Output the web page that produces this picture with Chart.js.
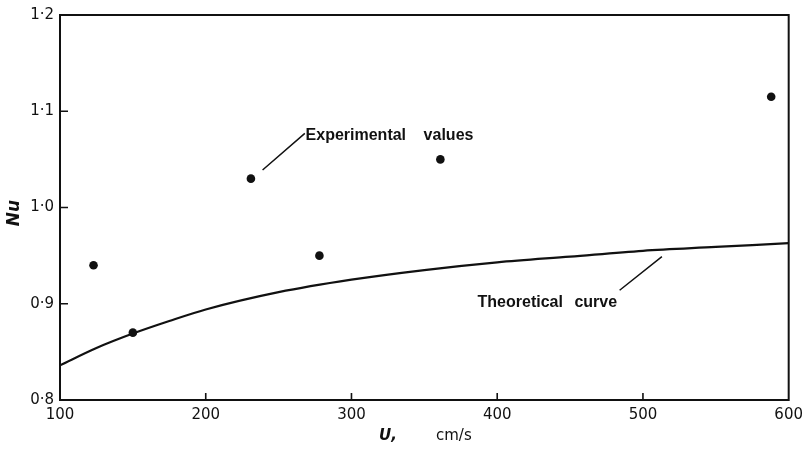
<!DOCTYPE html>
<html>
<head>
<meta charset="utf-8">
<script src="https://cdn.jsdelivr.net/npm/chart.js@4.4.1/dist/chart.umd.min.js"></script>
<style>
  html, body { margin:0; padding:0; background:#fff; }
  #wrap { width:809px; height:450px; }
</style>
</head>
<body>
<div id="wrap"><canvas id="c" width="809" height="450"></canvas></div>
<script>
// measured points (U in cm/s, Nu)
const expU  = [123, 150, 231, 278, 361, 588];
const expNu = [0.94, 0.87, 1.03, 0.95, 1.05, 1.115];

// theoretical curve
const theoU  = [100, 125, 150, 175, 200, 250, 300, 350, 400, 450, 500, 550, 600];
const theoNu = [0.836, 0.854, 0.869, 0.882, 0.894, 0.912, 0.925, 0.935, 0.943, 0.949, 0.955, 0.959, 0.963];

const xTicks = [100, 200, 300, 400, 500, 600];
const yTicks = [0.8, 0.9, 1.0, 1.1, 1.2];

const tickFont = { family: "DejaVu Sans", size: 15 };
const INK = "#111";

const $ = (id) => document.getElementById(id);
const fmtY = (v) => v.toFixed(1).replace(".", "\u00b7");

// inward ticks, frame, axis titles and the two callouts
const figurePlugin = {
  id: "figure",
  beforeDatasetsDraw(chart){
    const { ctx, chartArea: a, scales: { x, y } } = chart;
    ctx.save();
    ctx.strokeStyle = INK;
    ctx.lineWidth = 2;
    ctx.strokeRect(a.left, a.top, a.right - a.left, a.bottom - a.top);
    ctx.lineWidth = 1.6;
    ctx.beginPath();
    for(const t of xTicks.slice(1, -1)){
      const px = x.getPixelForValue(t);
      ctx.moveTo(px, a.bottom); ctx.lineTo(px, a.bottom - 7);
    }
    for(const t of yTicks.slice(1, -1)){
      const py = y.getPixelForValue(t);
      ctx.moveTo(a.left, py); ctx.lineTo(a.left + 8, py);
    }
    ctx.stroke();
    ctx.restore();
  },
  afterDraw(chart){
    const { ctx, scales: { x, y } } = chart;
    ctx.save();
    ctx.fillStyle = INK;
    ctx.strokeStyle = INK;

    // y title
    ctx.save();
    ctx.translate(15, 213);
    ctx.rotate(-Math.PI / 2);
    ctx.font = "italic bold 17px 'DejaVu Sans'";
    ctx.textAlign = "center";
    ctx.textBaseline = "middle";
    ctx.fillText("Nu", 0, 0);
    ctx.restore();

    // x title
    ctx.textBaseline = "middle";
    ctx.textAlign = "left";
    ctx.font = "italic bold 15px 'DejaVu Sans'";
    ctx.fillText("U,", 379, 436);
    ctx.font = "15px 'DejaVu Sans'";
    ctx.fillText("cm/s", 436, 436);

    // callouts (words spaced wide like the original lettering)
    ctx.textBaseline = "alphabetic";
    ctx.font = "bold 16px 'Liberation Sans'";
    const ey = y.getPixelForValue(1.07);
    ctx.fillText("Experimental", x.getPixelForValue(268.5), ey);
    ctx.fillText("values", x.getPixelForValue(349.5), ey);
    const ty = y.getPixelForValue(0.897);
    ctx.fillText("Theoretical", x.getPixelForValue(386.5), ty);
    ctx.fillText("curve", x.getPixelForValue(453), ty);

    ctx.lineWidth = 1.5;
    ctx.beginPath();
    ctx.moveTo(x.getPixelForValue(239), y.getPixelForValue(1.039));
    ctx.lineTo(x.getPixelForValue(268), y.getPixelForValue(1.077));
    ctx.moveTo(x.getPixelForValue(484), y.getPixelForValue(0.914));
    ctx.lineTo(x.getPixelForValue(513), y.getPixelForValue(0.949));
    ctx.stroke();
    ctx.restore();
  }
};

new Chart($("c"), {
  type: "scatter",
  data: {
    datasets: [
      {
        label: "Theoretical curve",
        data: theoU.map((u, i) => ({ x: u, y: theoNu[i] })),
        showLine: true,
        borderColor: INK,
        borderWidth: 2.2,
        pointRadius: 0,
        cubicInterpolationMode: "monotone",
        order: 2
      },
      {
        label: "Experimental values",
        data: expU.map((u, i) => ({ x: u, y: expNu[i] })),
        backgroundColor: INK,
        borderColor: INK,
        pointRadius: 4.3,
        pointBorderWidth: 0,
        order: 1
      }
    ]
  },
  options: {
    responsive: false,
    animation: false,
    layout: { padding: { top: 15, right: 20, left: 0, bottom: 0 } },
    plugins: { legend: { display: false }, tooltip: { enabled: false } },
    scales: {
      x: {
        type: "linear",
        min: 100, max: 600,
        afterBuildTicks: (s) => { s.ticks = xTicks.map(v => ({ value: v })); },
        afterFit: (s) => { s.height = 50; },
        grid: { display: false, drawTicks: false },
        border: { display: false },
        ticks: { font: tickFont, color: INK, padding: 6, maxRotation: 0 }
      },
      y: {
        type: "linear",
        min: 0.8, max: 1.2,
        afterBuildTicks: (s) => { s.ticks = yTicks.map(v => ({ value: v })); },
        afterFit: (s) => { s.width = 60; },
        grid: { display: false, drawTicks: false },
        border: { display: false },
        ticks: { font: tickFont, color: INK, padding: 6, callback: (v) => fmtY(v) }
      }
    }
  },
  plugins: [figurePlugin]
});
</script>
</body>
</html>
